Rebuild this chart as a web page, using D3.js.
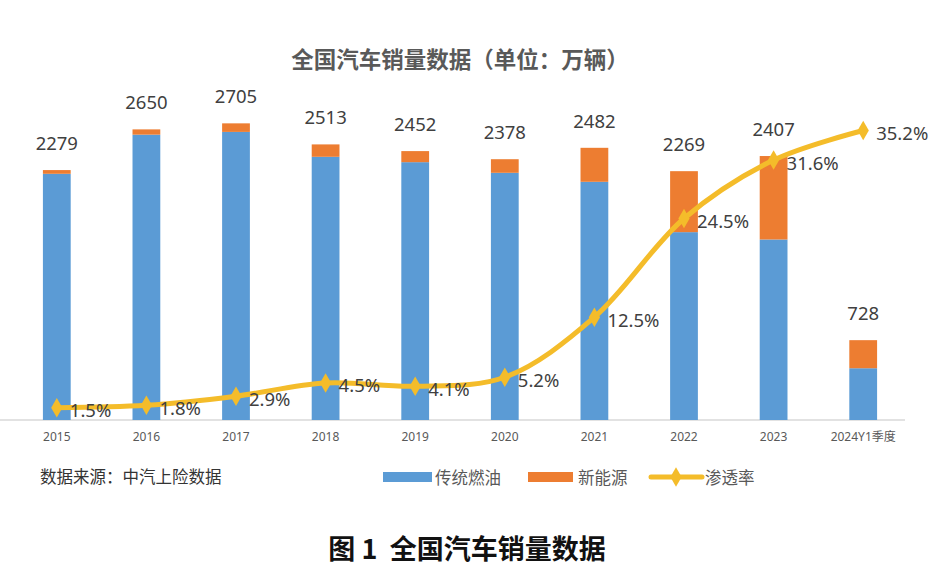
<!DOCTYPE html>
<html><head><meta charset="utf-8">
<script src="https://cdn.jsdelivr.net/npm/d3@7"></script>
<style>
html,body{margin:0;padding:0;background:#fff;}
svg{display:block;}
text{font-family:"Noto Sans","Noto Sans CJK SC",sans-serif;}
.cjk{font-family:"Noto Sans CJK SC",sans-serif;}
</style>
</head><body>
<svg id="chart" width="941" height="573"></svg>
<script>
const categories = ["2015","2016","2017","2018","2019","2020","2021","2022","2023","2024Y1季度"];
const totals = [2279, 2650, 2705, 2513, 2452, 2378, 2482, 2269, 2407, 728];
const newEnergy = [34, 48, 78, 113, 101, 124, 310, 556, 761, 256];
const traditional = [2245, 2602, 2627, 2400, 2351, 2254, 2172, 1713, 1646, 472];
const penetration = [1.5, 1.8, 2.9, 4.5, 4.1, 5.2, 12.5, 24.5, 31.6, 35.2];
const penLabels = ["1.5%","1.8%","2.9%","4.5%","4.1%","5.2%","12.5%","24.5%","31.6%","35.2%"];
const yTicks = [0, 500, 1000, 1500, 2000, 2500, 3000];

const BLUE = "#5B9BD5", ORANGE = "#ED7D31", GOLD = "#F4BC2A";
const svg = d3.select("#chart");

const x = d3.scaleBand().domain(categories).range([12, 908]).paddingInner(0.69).paddingOuter(0.345);
const y = d3.scaleLinear().domain([0, 3000]).range([420, 91]);
const y2 = d3.scaleLinear().domain([0, 40]).range([420, 91]);

// title
svg.append("text").attr("class","cjk").attr("x", 460).attr("y", 58)
  .attr("text-anchor","middle").attr("dominant-baseline","central")
  .attr("font-size", 22.5).attr("font-weight", 600).attr("fill", "#595959")
  .text("全国汽车销量数据（单位：万辆）");

// axis
const xAxis = d3.axisBottom(x).tickSize(0).tickPadding(12);
const gx = svg.append("g").attr("transform","translate(0,420)").call(xAxis);
gx.select(".domain").attr("stroke","#D9D9D9").attr("stroke-width",1.5).attr("d","M0,0H905");
gx.selectAll("text").attr("font-size", 12).attr("fill","#595959")
  .attr("font-family",'"Noto Sans CJK SC",sans-serif').attr("font-stretch","condensed");

// stacked bars
const rows = categories.map((c,i)=>({cat:c, trad:traditional[i], nev:newEnergy[i]}));
const stack = d3.stack().keys(["trad","nev"])(rows);
const colors = {trad: BLUE, nev: ORANGE};
svg.append("g").selectAll("g").data(stack).join("g")
  .attr("fill", d => colors[d.key])
  .selectAll("rect").data(d => d).join("rect")
  .attr("x", d => x(d.data.cat))
  .attr("width", x.bandwidth())
  .attr("y", d => y(d[1]))
  .attr("height", d => y(d[0]) - y(d[1]));

// total labels
svg.append("g").selectAll("text").data(totals).join("text")
  .attr("x", (d,i) => x(categories[i]) + x.bandwidth()/2)
  .attr("y", d => y(d) - 20)
  .attr("text-anchor","middle").attr("font-size", 18.5).attr("fill","#404040")
  .text(d => d);

// penetration line
const cx = i => x(categories[i]) + x.bandwidth()/2;
const line = d3.line().x((d,i)=>cx(i)).y(d=>y2(d)).curve(d3.curveCatmullRom.alpha(0.5));
svg.append("path").datum(penetration).attr("d", line)
  .attr("fill","none").attr("stroke", GOLD).attr("stroke-width", 5)
  .attr("stroke-linejoin","round").attr("stroke-linecap","round");
const diamond = d3.symbol().type(d3.symbolDiamond).size(110);
svg.append("g").selectAll("path").data(penetration).join("path")
  .attr("d", diamond).attr("fill", GOLD)
  .attr("transform", (d,i)=>`translate(${cx(i)},${y2(d)})`);
svg.append("g").selectAll("text").data(penetration).join("text")
  .attr("x", (d,i)=>cx(i) + 13)
  .attr("y", d => y2(d) + 2)
  .attr("dominant-baseline","central")
  .attr("font-size", 18.5).attr("fill","#404040")
  .text((d,i)=>penLabels[i]);

// source
svg.append("text").attr("class","cjk").attr("x", 40).attr("y", 476)
  .attr("dominant-baseline","central").attr("font-size", 16.5).attr("fill","#333")
  .text("数据来源：中汽上险数据");

// legend
const lg = svg.append("g");
lg.append("rect").attr("x",383).attr("y",472).attr("width",49).attr("height",10).attr("fill",BLUE);
lg.append("text").attr("class","cjk").attr("x",435).attr("y",477).attr("dominant-baseline","central")
  .attr("font-size",16.5).attr("fill","#595959").text("传统燃油");
lg.append("rect").attr("x",528).attr("y",472).attr("width",45).attr("height",10).attr("fill",ORANGE);
lg.append("text").attr("class","cjk").attr("x",578).attr("y",477).attr("dominant-baseline","central")
  .attr("font-size",16.5).attr("fill","#595959").text("新能源");
lg.append("line").attr("x1",651).attr("x2",702).attr("y1",477).attr("y2",477)
  .attr("stroke",GOLD).attr("stroke-width",5).attr("stroke-linecap","round");
lg.append("path").attr("d", diamond).attr("fill",GOLD).attr("transform","translate(676,477)");
lg.append("text").attr("class","cjk").attr("x",705).attr("y",477).attr("dominant-baseline","central")
  .attr("font-size",16.5).attr("fill","#595959").text("渗透率");

// caption
svg.append("text").attr("class","cjk").attr("x", 467).attr("y", 547)
  .attr("text-anchor","middle").attr("dominant-baseline","central")
  .attr("font-size", 27).attr("font-weight", 700).attr("fill","#111")
  .style("white-space","pre")
  .text("图 1  全国汽车销量数据");
</script>
</body></html>
